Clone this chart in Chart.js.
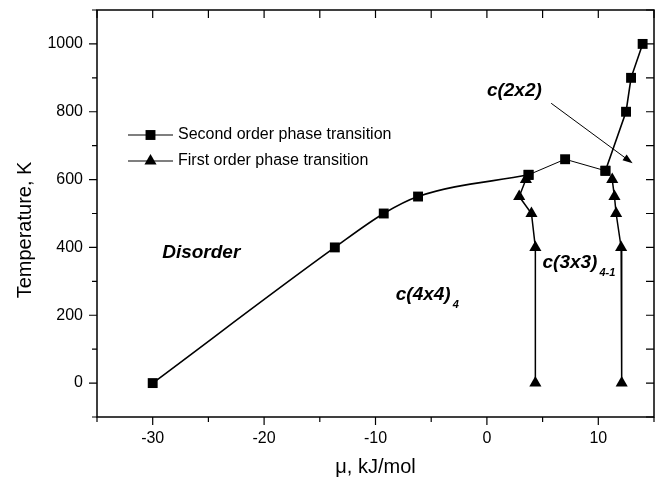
<!DOCTYPE html>
<html>
<head>
<meta charset="utf-8">
<script src="https://cdn.jsdelivr.net/npm/chart.js@4.4.0/dist/chart.umd.min.js"></script>
<style>
html, body { margin: 0; padding: 0; background: #fff; }
</style>
</head>
<body>
<canvas id="Canvasnya" width="664" height="481"></canvas>
<script>
// second order phase transition (squares)
var secondLeftMu = [-30, -13.65, -9.26, -6.18, 3.74];
var secondLeftT = [0, 400, 500, 550, 614];
var secondMidMu = [3.74, 7.02, 10.64];
var secondMidT = [614, 660, 626];
var secondRightMu = [10.64, 12.49, 12.94, 13.98];
var secondRightT = [626, 800, 900, 1000];

// first order phase transition (triangles)
var firstLeftMu = [3.5, 2.9, 4.0, 4.35, 4.35];
var firstLeftT = [600, 550, 500, 400, 0];
var firstRightMu = [11.25, 11.45, 11.6, 12.05, 12.1];
var firstRightT = [600, 550, 500, 400, 0];

var xTicks = [-30, -20, -10, 0, 10];
var yTicks = [0, 200, 400, 600, 800, 1000];

var legendLabels = ["Second order phase transition", "First order phase transition"];

function pts(xs, ys) {
    var out = [];
    for (var i = 0; i < xs.length; i++) out.push({x: xs[i], y: ys[i]});
    return out;
}

var FONT = 'Arial, "Liberation Sans", sans-serif';

var decorPlugin = {
    id: 'decor',
    afterDraw: function(chart) {
        var ctx = chart.ctx, a = chart.chartArea;
        var xs = chart.scales.x, ys = chart.scales.y;
        ctx.save();
        ctx.strokeStyle = '#000';
        ctx.fillStyle = '#000';

        // frame
        ctx.lineWidth = 1.5;
        ctx.strokeRect(a.left, a.top, a.right - a.left, a.bottom - a.top);

        // ticks: outside on left/bottom, inside on top/right
        ctx.lineWidth = 1.2;
        ctx.beginPath();
        for (var v = -35; v <= 15; v += 5) {
            var px = xs.getPixelForValue(v);
            var major = v % 10 === 0;
            ctx.moveTo(px, a.bottom); ctx.lineTo(px, a.bottom + (major ? 8 : 5));
            ctx.moveTo(px, a.top); ctx.lineTo(px, a.top + 8);
        }
        for (var t = -100; t <= 1100; t += 100) {
            var py = ys.getPixelForValue(t);
            var maj = t % 200 === 0;
            ctx.moveTo(a.left, py); ctx.lineTo(a.left - (maj ? 8 : 5), py);
            ctx.moveTo(a.right, py); ctx.lineTo(a.right - 8, py);
        }
        ctx.stroke();

        // axis titles
        ctx.font = '20px ' + FONT;
        ctx.textAlign = 'center';
        ctx.textBaseline = 'middle';
        ctx.fillText('\u03bc, kJ/mol', (a.left + a.right) / 2, 467);
        ctx.save();
        ctx.translate(25, 230);
        ctx.rotate(-Math.PI / 2);
        ctx.fillText('Temperature, K', 0, 0);
        ctx.restore();

        // legend
        var styles = ['rect', 'triangle'];
        var rows = [135, 161];
        ctx.font = '16px ' + FONT;
        ctx.textAlign = 'left';
        for (var i = 0; i < 2; i++) {
            ctx.lineWidth = 1.2;
            ctx.beginPath();
            ctx.moveTo(128, rows[i]); ctx.lineTo(173, rows[i]);
            ctx.stroke();
            Chart.helpers.drawPoint(ctx, {pointStyle: styles[i], radius: 7, rotation: 0, borderWidth: 0}, 150.5, rows[i]);
            ctx.fillText(legendLabels[i], 178, rows[i]);
        }

        // region labels
        ctx.textBaseline = 'alphabetic';
        function label(text, sub, x, y) {
            var px = xs.getPixelForValue(x), py = ys.getPixelForValue(y);
            ctx.font = 'italic bold 19px ' + FONT;
            ctx.fillText(text, px, py);
            if (sub) {
                var w = ctx.measureText(text).width;
                ctx.font = 'italic bold 11px ' + FONT;
                ctx.fillText(sub, px + w + 2, py + 8);
            }
        }
        label('Disorder', null, -29.15, 370);
        label('c(4x4)', '4', -8.18, 246);
        label('c(3x3)', '4-1', 4.99, 340);
        label('c(2x2)', null, 0, 846);

        // arrow to c(2x2) region
        var x0 = xs.getPixelForValue(5.77), y0 = ys.getPixelForValue(825);
        var x1 = xs.getPixelForValue(13.08), y1 = ys.getPixelForValue(648);
        var ang = Math.atan2(y1 - y0, x1 - x0);
        ctx.lineWidth = 1;
        ctx.beginPath();
        ctx.moveTo(x0, y0); ctx.lineTo(x1 - 6 * Math.cos(ang), y1 - 6 * Math.sin(ang));
        ctx.stroke();
        ctx.beginPath();
        ctx.moveTo(x1, y1);
        ctx.lineTo(x1 - 10 * Math.cos(ang) + 3.5 * Math.sin(ang), y1 - 10 * Math.sin(ang) - 3.5 * Math.cos(ang));
        ctx.lineTo(x1 - 10 * Math.cos(ang) - 3.5 * Math.sin(ang), y1 - 10 * Math.sin(ang) + 3.5 * Math.cos(ang));
        ctx.closePath();
        ctx.fill();

        ctx.restore();
    }
};

var lineCommon = {
    showLine: true,
    borderColor: '#000',
    backgroundColor: '#000',
    pointBackgroundColor: '#000',
    pointBorderWidth: 0,
    pointRadius: 7,
    pointHoverRadius: 7,
    fill: false
};

function ds(data, style, width, extra) {
    var d = Object.assign({}, lineCommon, {data: data, pointStyle: style, borderWidth: width});
    return Object.assign(d, extra || {});
}

var myChart = new Chart(document.getElementById('Canvasnya').getContext('2d'), {
    type: 'scatter',
    data: {
        datasets: [
            ds(pts(secondLeftMu, secondLeftT), 'rect', 1.6, {cubicInterpolationMode: 'monotone'}),
            ds(pts(secondMidMu, secondMidT), 'rect', 1),
            ds(pts(secondRightMu, secondRightT), 'rect', 1.6),
            ds(pts(firstLeftMu, firstLeftT), 'triangle', 1.5),
            ds(pts(firstRightMu, firstRightT), 'triangle', 1.5)
        ]
    },
    options: {
        responsive: false,
        animation: false,
        devicePixelRatio: 1,
        layout: {padding: {top: 10, right: 10, left: 0, bottom: 0}},
        plugins: {legend: {display: false}, tooltip: {enabled: false}},
        scales: {
            x: {
                type: 'linear',
                min: -35, max: 15,
                grid: {display: false, drawTicks: false},
                border: {display: false},
                ticks: {
                    stepSize: 5,
                    padding: 12,
                    color: '#000',
                    autoSkip: false,
                    font: {family: FONT, size: 16},
                    maxRotation: 0,
                    callback: function(v) { return xTicks.indexOf(v) >= 0 ? String(v) : null; }
                },
                afterFit: function(s) { s.height = 64; s.paddingLeft = 0; s.paddingRight = 0; }
            },
            y: {
                type: 'linear',
                min: -100, max: 1100,
                grid: {display: false, drawTicks: false},
                border: {display: false},
                ticks: {
                    stepSize: 100,
                    padding: 14,
                    color: '#000',
                    font: {family: FONT, size: 16},
                    autoSkip: false,
                    callback: function(v) { return yTicks.indexOf(v) >= 0 ? String(v) : null; }
                },
                afterFit: function(s) { s.width = 97; s.paddingTop = 0; s.paddingBottom = 0; }
            }
        }
    },
    plugins: [decorPlugin]
});
</script>
</body>
</html>
